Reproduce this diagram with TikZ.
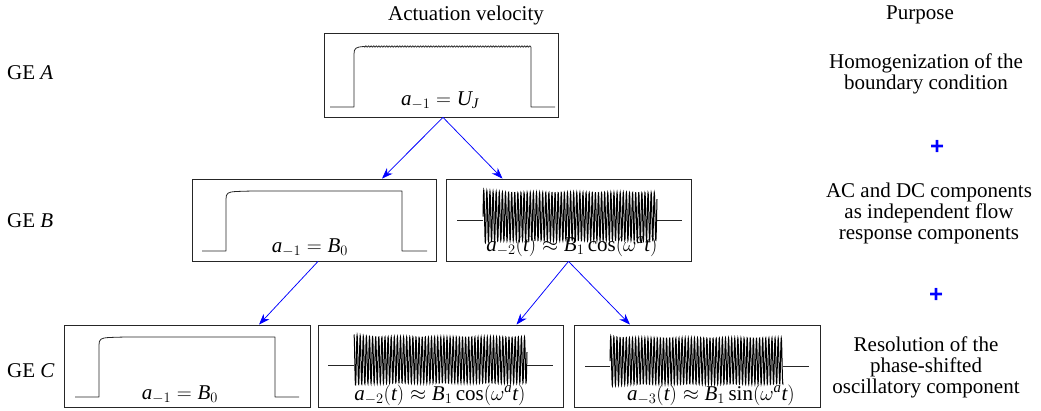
\documentclass[tikz,border=0pt]{standalone}
\usepackage{fontspec}
\setmainfont{Liberation Serif}
\newfontfamily\plusfont{Liberation Sans}
\usetikzlibrary{arrows.meta,calc}
\newcommand{\mv}[1]{\mathit{#1}}
\tikzset{
  sigbox/.style={draw=black!85, line width=0.8pt, inner sep=0pt},
  sig/.style={draw=black!85, line width=0.8pt, line join=round},
  osc/.style={draw=black, line width=1pt},
  link/.style={draw=blue, line width=0.75pt, -{Stealth[length=11pt,width=8pt,inset=3.5pt]}},
  txt/.style={font=\fontsize{21}{21}\selectfont, inner sep=0pt, align=center},
  lbl/.style={font=\fontsize{21}{21}\selectfont, inner sep=0pt},
  plus/.style={text=blue, font=\plusfont\fontsize{24}{24}\selectfont\bfseries, inner sep=0pt}
}
\begin{document}
\begin{tikzpicture}[x=1pt,y=-1pt]
\useasboundingbox (0,0) rectangle (1041,410);
% headers
\node[txt] (h1) at (466,15) {Actuation velocity};
\node[txt] (h2) at (920,15) {Purpose};
% row labels
\node[lbl, anchor=west] (geA) at (7,73) {GE \textit{A}};
\node[lbl, anchor=west] (geB) at (7,221) {GE \textit{B}};
\node[lbl, anchor=west] (geC) at (7,371) {GE \textit{C}};
% purposes
\node[txt] (p1) at (926,74) {Homogenization of the\\boundary condition};
\node[plus] (plus1) at (937,147) {+};
\node[txt] (p2) at (929,213) {AC and DC components\\as independent flow\\response components};
\node[plus] (plus2) at (936,295) {+};
\node[txt] (p3) at (926,367) {Resolution of the\\phase-shifted\\oscillatory component};
% boxes
\node[sigbox, minimum width=234pt, minimum height=84pt] (A) at (441,75) {};
\node[sigbox, minimum width=244pt, minimum height=82pt] (B1) at (314,220) {};
\node[sigbox, minimum width=245pt, minimum height=82pt] (B2) at (568.5,220) {};
\node[sigbox, minimum width=246pt, minimum height=82pt] (C1) at (187,366) {};
\node[sigbox, minimum width=245pt, minimum height=82pt] (C2) at (440.5,366) {};
\node[sigbox, minimum width=246pt, minimum height=82pt] (C3) at (697,366) {};
% signals
% A: step with ripple
\draw[sig] (330,107) -- (354,107) -- (354,54) .. controls (354,48) and (356,47) .. (364,46.5)
  -- plot[domain=0:167, samples=340, variable=\t] ({364+\t},{46.5+0.7*sin(mod(\t,2.6)*360/2.6)})
  -- (531,107) -- (555,107);
% B1
\draw[sig] (202,251) -- (226,251) -- (226,199) .. controls (226,193) and (228,192) .. (236,191.5)
  .. controls (250,191) .. (270,191) -- (402,191) -- (402,251) -- (427,251);
% C1
\draw[sig] (75,397) -- (99,397) -- (99,345) .. controls (99,339) and (101,338) .. (109,337.5)
  .. controls (123,337) .. (143,337) -- (275,337) -- (275,397) -- (299,397);
% B2 oscillation
\draw[sig] (457,220.5) -- (483,220.5);
\draw[sig] (657,220.5) -- (682,220.5);
\draw[osc] plot[domain=0:174, samples=1400, variable=\t]
  ({483+\t},{220.5-4-(24+2.5*exp(-\t/10))*sin(mod(\t,3.1)*360/3.1)});
% C2 oscillation
\draw[sig] (328,365) -- (354,365);
\draw[sig] (527,365) -- (553,365);
\draw[osc] plot[domain=0:173, samples=1400, variable=\t]
  ({354+\t},{365-5-(23+2.5*exp(-\t/10))*cos(mod(\t,3.1)*360/3.1)});
% C3 oscillation
\draw[sig] (585,366) -- (610,366);
\draw[sig] (783,366) -- (809,366);
\draw[osc] plot[domain=0:173, samples=1400, variable=\t]
  ({610+\t},{366-5-(23+2*exp(-\t/10))*sin(mod(\t,3.1)*360/3.1)});
% labels
\node[lbl] (lA) at (440,101) {$\mv{a}_{-1}=\mv{U}_{\mv{J}}$};
\node[lbl] (lB1) at (310,248) {$\mv{a}_{-1}=\mv{B}_0$};
\node[lbl] (lB2) at (572,246) {$\mv{a}_{-2}(\mv{t})\approx \mv{B}_1\cos(\omega^{\mv{a}} \mv{t})$};
\node[lbl] (lC1) at (180,395) {$\mv{a}_{-1}=\mv{B}_0$};
\node[lbl] (lC2) at (440,395) {$\mv{a}_{-2}(\mv{t})\approx \mv{B}_1\cos(\omega^{\mv{a}} \mv{t})$};
\node[lbl] (lC3) at (711,395) {$\mv{a}_{-3}(\mv{t})\approx \mv{B}_1\sin(\omega^{\mv{a}} \mv{t})$};
% links
\draw[link] ([xshift=2pt]A.south) -- ([xshift=68pt]B1.north);
\draw[link] ([xshift=2pt]A.south) -- ([xshift=-66pt]B2.north);
\draw[link] ([xshift=4pt]B1.south) -- ([xshift=72pt]C1.north);
\draw[link] (B2.south) -- ([xshift=76pt]C2.north);
\draw[link] (B2.south) -- ([xshift=-67pt]C3.north);
\end{tikzpicture}
\end{document}
